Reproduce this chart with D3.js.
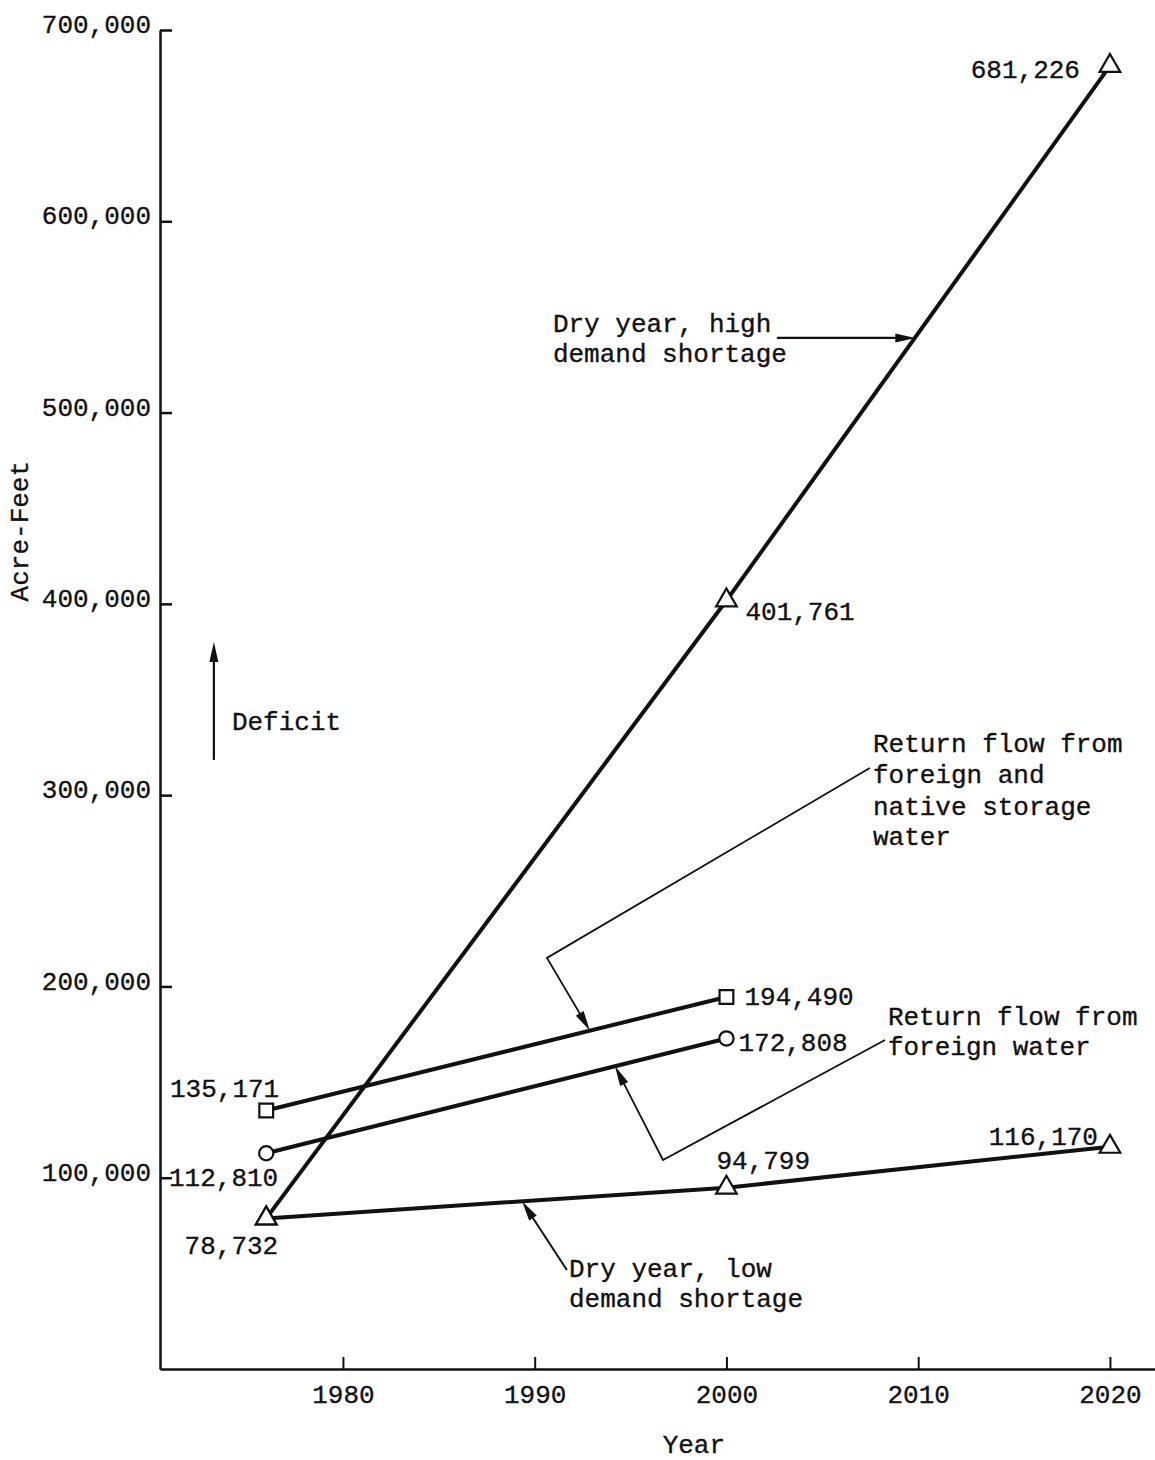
<!DOCTYPE html>
<html>
<head>
<meta charset="utf-8">
<script src="https://cdn.jsdelivr.net/npm/d3@7"></script>
<style>
  html, body { margin: 0; padding: 0; background: #fff; }
  svg { display: block; }
  text { font-family: "Liberation Mono", "Courier New", monospace; fill: #111; stroke: #111; stroke-width: 0.35px; }
</style>
</head>
<body>
<script>
// ---------------- DATA ----------------
const years = [1976, 2000, 2020];
const highDemand = [78732, 401761, 681226];          // Dry year, high demand shortage
const lowDemand = [78732, 94799, 116170];            // Dry year, low demand shortage
const storageYears = [1976, 2000];
const foreignNative = [135171, 194490];              // Return flow from foreign and native storage water
const foreignOnly = [112810, 172808];                // Return flow from foreign water
const xTicks = [1980, 1990, 2000, 2010, 2020];
const yTicks = [100000, 200000, 300000, 400000, 500000, 600000, 700000];
const fmt = d3.format(",");

// ---------------- LAYOUT ----------------
const W = 1155, H = 1460;
const svg = d3.select("body").append("svg").attr("width", W).attr("height", H);

const x = d3.scaleLinear().domain([1970.46, 2022.35]).range([160, 1155]);
const y = d3.scaleLinear().domain([0, 700000]).range([1369, 30]);

const FS = 26;

// Y axis
const yAxis = d3.axisLeft(y).tickValues(yTicks).tickFormat(fmt)
  .tickSizeInner(-12).tickSizeOuter(0).tickPadding(9);
const gy = svg.append("g").attr("transform", `translate(${x.range()[0]},0)`).call(yAxis);
gy.select(".domain").attr("stroke", "#111").attr("stroke-width", 2.5);
gy.selectAll(".tick line").attr("stroke", "#111").attr("stroke-width", 2.5);
gy.selectAll(".tick text").attr("font-size", FS).attr("font-family", "Liberation Mono")
  .attr("fill", "#111").attr("dy", "0.1em");

// X axis
const xAxis = d3.axisBottom(x).tickValues(xTicks).tickFormat(d3.format("d"))
  .tickSizeInner(-12).tickSizeOuter(0).tickPadding(16);
const gx = svg.append("g").attr("transform", `translate(0,${y(0)})`).call(xAxis);
gx.select(".domain").attr("stroke", "#111").attr("stroke-width", 2.5);
gx.selectAll(".tick line").attr("stroke", "#111").attr("stroke-width", 2);
gx.selectAll(".tick text").attr("font-size", FS).attr("font-family", "Liberation Mono").attr("fill", "#111");

// Axis titles
svg.append("text").attr("font-size", FS).attr("text-anchor", "middle")
  .attr("transform", `translate(${x.range()[0] - 132},${y(438000)}) rotate(-90)`)
  .text("Acre-Feet");
svg.append("text").attr("font-size", FS).attr("text-anchor", "middle")
  .attr("x", x(1998.3)).attr("y", y(0) + 84).text("Year");

// ---------------- SERIES ----------------
const series = [
  { name: "high", xs: years, vs: highDemand, sym: d3.symbolTriangle, size: 185 },
  { name: "low", xs: years, vs: lowDemand, sym: d3.symbolTriangle, size: 185 },
  { name: "storage", xs: storageYears, vs: foreignNative, sym: d3.symbolSquare, size: 190 },
  { name: "foreign", xs: storageYears, vs: foreignOnly, sym: d3.symbolCircle, size: 160 }
];
const line = d3.line().x(d => x(d[0])).y(d => y(d[1]));
series.forEach(s => {
  const pts = s.xs.map((yr, i) => [yr, s.vs[i]]);
  svg.append("path").attr("d", line(pts)).attr("fill", "none")
    .attr("stroke", "#111").attr("stroke-width", 4).attr("stroke-linejoin", "round");
});
series.forEach(s => {
  s.xs.forEach((yr, i) => {
    svg.append("path").attr("d", d3.symbol().type(s.sym).size(s.size)())
      .attr("transform", `translate(${x(yr)},${y(s.vs[i])})`)
      .attr("fill", "#fff").attr("stroke", "#111").attr("stroke-width", 2.2);
  });
});

// Value labels (offsets in px relative to the point)
const labels = [
  { yr: 2020, v: highDemand[2], dx: -30, dy: 12, anchor: "end" },
  { yr: 2000, v: highDemand[1], dx: 19, dy: 20, anchor: "start" },
  { yr: 1976, v: highDemand[0], dx: 12, dy: 36, anchor: "end" },
  { yr: 2000, v: lowDemand[1], dx: -10, dy: -19, anchor: "start" },
  { yr: 2020, v: lowDemand[2], dx: -12, dy: -2, anchor: "end" },
  { yr: 1976, v: foreignNative[0], dx: 13, dy: -13, anchor: "end" },
  { yr: 2000, v: foreignNative[1], dx: 18, dy: 8, anchor: "start" },
  { yr: 1976, v: foreignOnly[0], dx: 12, dy: 33, anchor: "end" },
  { yr: 2000, v: foreignOnly[1], dx: 12, dy: 13, anchor: "start" }
];
labels.forEach(l => {
  svg.append("text").attr("font-size", FS).attr("text-anchor", l.anchor)
    .attr("x", x(l.yr) + l.dx).attr("y", y(l.v) + l.dy).text(fmt(l.v));
});

// ---------------- ANNOTATIONS ----------------
function interp(xs, vs, yr) {
  for (let i = 0; i < xs.length - 1; i++) {
    if (yr >= xs[i] && yr <= xs[i + 1]) {
      const t = (yr - xs[i]) / (xs[i + 1] - xs[i]);
      return vs[i] + t * (vs[i + 1] - vs[i]);
    }
  }
  return vs[vs.length - 1];
}
function arrowHead(p0, p1, len, wid) {
  const ang = Math.atan2(p1[1] - p0[1], p1[0] - p0[0]);
  const bx = p1[0] - len * Math.cos(ang), by = p1[1] - len * Math.sin(ang);
  const nx = -Math.sin(ang) * wid / 2, ny = Math.cos(ang) * wid / 2;
  svg.append("path")
    .attr("d", `M${p1[0]},${p1[1]}L${bx + nx},${by + ny}L${bx - nx},${by - ny}Z`)
    .attr("fill", "#111");
}
function leader(ptsData, sw) {
  const pts = ptsData.map(p => [x(p[0]), y(p[1])]);
  const n = pts.length;
  const a = pts[n - 2], b = pts[n - 1];
  const ang = Math.atan2(b[1] - a[1], b[0] - a[0]);
  const shortened = pts.slice(0, n - 1).concat([[b[0] - 10 * Math.cos(ang), b[1] - 10 * Math.sin(ang)]]);
  svg.append("path").attr("d", d3.line()(shortened)).attr("fill", "none")
    .attr("stroke", "#111").attr("stroke-width", sw);
  arrowHead(a, b, 20, 9);
}
function textBlock(yr, values, lines) {
  lines.forEach((t, i) => {
    svg.append("text").attr("font-size", FS).attr("x", x(yr)).attr("y", y(values[i])).text(t);
  });
}

// Dry year, high demand shortage
textBlock(1990.95, [542200, 526500], ["Dry year, high", "demand shortage"]);
leader([[2002.63, 539000], [2009.85, 539000]], 2.2);

// Deficit
textBlock(1974.21, [334100], ["Deficit"]);
leader([[1973.27, 318400], [1973.27, 380000]], 2.2);

// Return flow from foreign and native storage water
textBlock(2007.64, [322600, 306400, 289600, 274000],
  ["Return flow from", "foreign and", "native storage", "water"]);
leader([[2007.48, 314200], [1990.64, 214900], [1992.88, interp(storageYears, foreignNative, 1992.88)]], 1.8);

// Return flow from foreign water
textBlock(2008.42, [179850, 164200], ["Return flow from", "foreign water"]);
leader([[2008.27, 172000], [1996.69, 109300], [1994.19, interp(storageYears, foreignOnly, 1994.19)]], 1.8);

// Dry year, low demand shortage
textBlock(1991.79, [48100, 32400], ["Dry year, low", "demand shortage"]);
leader([[1991.68, 51760], [1989.34, interp(years, lowDemand, 1989.34)]], 2);
</script>
</body>
</html>
